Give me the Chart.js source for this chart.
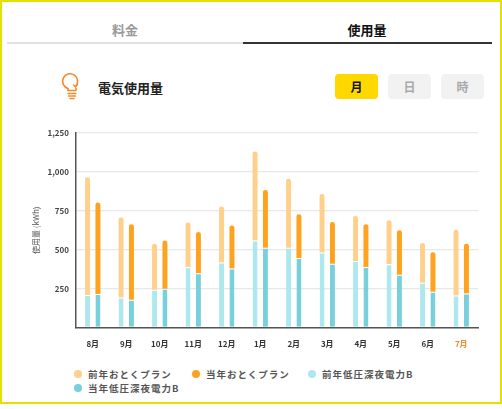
<!DOCTYPE html>
<html><head><meta charset="utf-8">
<script src="https://cdn.jsdelivr.net/npm/chart.js@4.4.1/dist/chart.umd.min.js"></script>
<style>
html,body{margin:0;padding:0;background:#fff;width:502px;height:409px;overflow:hidden;font-family:"Noto Sans CJK JP","Noto Sans",sans-serif;}
#frame{position:absolute;left:0;top:0;width:498px;height:400px;border:2px solid #e6e000;}
.tab{position:absolute;top:20px;font-size:13px;font-weight:bold;text-align:center;}
#line1{position:absolute;left:7px;top:42px;width:236px;height:2px;background:#e2e2e2;}
#line2{position:absolute;left:243px;top:42px;width:249px;height:2px;background:#333;}
#title{position:absolute;left:98px;top:78px;font-size:13px;font-weight:bold;color:#222;}
.btn{position:absolute;top:74px;width:43px;height:25px;border-radius:4px;font-size:12px;font-weight:bold;text-align:center;line-height:25px;}
#wrap{position:absolute;left:0;top:110px;width:502px;height:255px;}
.lg{position:absolute;font-size:9.5px;font-weight:bold;color:#555;letter-spacing:1px;line-height:12px;}
.dot{position:absolute;width:8px;height:8px;border-radius:50%;}
</style></head>
<body>
<div id="frame"></div>
<div class="tab" style="left:85px;width:80px;color:#999;">料金</div>
<div class="tab" style="left:327px;width:80px;color:#111;">使用量</div>
<div id="line1"></div><div id="line2"></div>
<svg style="position:absolute;left:60px;top:68px" width="24" height="34" viewBox="0 0 24 34">
 <path d="M15.5 18.5 A7.5 7.5 0 1 0 8 20.5 L8 22.5" fill="none" stroke="#f5892b" stroke-width="1.6" stroke-linecap="round"/>
 <path d="M16 22 L16 20.5 M8 22.5 L16 22.5" fill="none" stroke="#f5892b" stroke-width="1.6" stroke-linecap="round"/>
 <path d="M17.5 16.5 L15.5 19 L13.5 17" fill="none" stroke="#f5892b" stroke-width="1.4" stroke-linecap="round"/>
 <path d="M8 25.5 L16 25.5 M8.5 28 L15.5 28 M10 30.5 L14 30.5" stroke="#f5892b" stroke-width="1.4" stroke-linecap="round"/>
</svg>
<div id="title">電気使用量</div>
<div class="btn" style="left:335px;background:#ffd800;color:#111;">月</div>
<div class="btn" style="left:388px;background:#f2f2f2;color:#aaa;">日</div>
<div class="btn" style="left:441px;background:#f2f2f2;color:#aaa;">時</div>
<div id="wrap"><canvas id="c"></canvas></div>
<div id="legend"></div>
<script>
const months = ["8月","9月","10月","11月","12月","1月","2月","3月","4月","5月","6月","7月"];
const prevNight = [209,192,242,386,417,559,512,481,427,406,287,205];
const prevOtoku = [756,514,296,288,360,572,444,376,290,283,255,423];
const currNight = [214,177,248,348,378,512,447,410,389,339,229,218];
const currOtoku = [589,486,311,265,278,371,281,268,274,285,255,320];
const yTicks = [0,250,500,750,1000,1250];
const seriesNames = ["前年おとくプラン","当年おとくプラン","前年低圧深夜電力B","当年低圧深夜電力B"];
const colors = {prevOtoku:"#ffd08c", currOtoku:"#ffa31f", prevNight:"#aee8ef", currNight:"#77d0dc"};

const legendPos = [[78,374],[196,374],[312,374],[78,388]];
const legendCols = [colors.prevOtoku, colors.currOtoku, colors.prevNight, colors.currNight];
const lg = document.getElementById('legend');
seriesNames.forEach((n,i)=>{
  const [x,y] = legendPos[i];
  const d=document.createElement('div'); d.className='dot';
  d.style.left=(x-4)+'px'; d.style.top=(y-4)+'px'; d.style.background=legendCols[i]; lg.appendChild(d);
  const t=document.createElement('div'); t.className='lg'; t.textContent=n;
  t.style.left=(x+10)+'px'; t.style.top=(y-6)+'px'; lg.appendChild(t);
});

const font = {family:'"Noto Sans CJK JP","Noto Sans",sans-serif', size:8, weight:'bold'};
new Chart(document.getElementById('c'), {
  type:'bar',
  data:{labels:months, datasets:[
    {label:seriesNames[2], data:prevNight, stack:'prev', backgroundColor:colors.prevNight, borderColor:'#fff', borderWidth:{top:1,left:0,right:0,bottom:0}, borderSkipped:'start'},
    {label:seriesNames[3], data:currNight, stack:'curr', backgroundColor:colors.currNight, borderColor:'#fff', borderWidth:{top:1,left:0,right:0,bottom:0}, borderSkipped:'start'},
    {label:seriesNames[0], data:prevOtoku, stack:'prev', backgroundColor:colors.prevOtoku, borderRadius:3, borderSkipped:'start'},
    {label:seriesNames[1], data:currOtoku, stack:'curr', backgroundColor:colors.currOtoku, borderRadius:3, borderSkipped:'start'}
  ]},
  options:{
    responsive:true, maintainAspectRatio:false, animation:false,
    layout:{padding:{left:0,right:24,top:23,bottom:4}},
    plugins:{legend:{display:false}, tooltip:{enabled:false}},
    datasets:{bar:{categoryPercentage:0.62, barPercentage:0.48}},
    scales:{
      x:{stacked:true, grid:{display:false, drawTicks:false}, border:{color:'#555', width:1.5},
         ticks:{padding:12, font:font, color:(ctx)=> ctx.index===months.length-1 ? '#f5892b' : '#333'}},
      y:{stacked:true, min:yTicks[0], max:yTicks[yTicks.length-1],
         afterFit:(s)=>{s.width=76;},
         afterBuildTicks:(s)=>{s.ticks=yTicks.map(v=>({value:v}));},
         grid:{color:'#e8e8e8', drawTicks:false, lineWidth:1.2}, border:{color:'#555', width:1.5},
         ticks:{padding:7, font:font, color:'#444', callback:(v)=> v===0 ? '' : v.toLocaleString('en-US')},
         title:{display:true, text:'使用量 (kWh)', color:'#555', font:{family:font.family,size:8}, padding:{top:31,bottom:0}}}
    }
  }
});
</script>
</body></html>
